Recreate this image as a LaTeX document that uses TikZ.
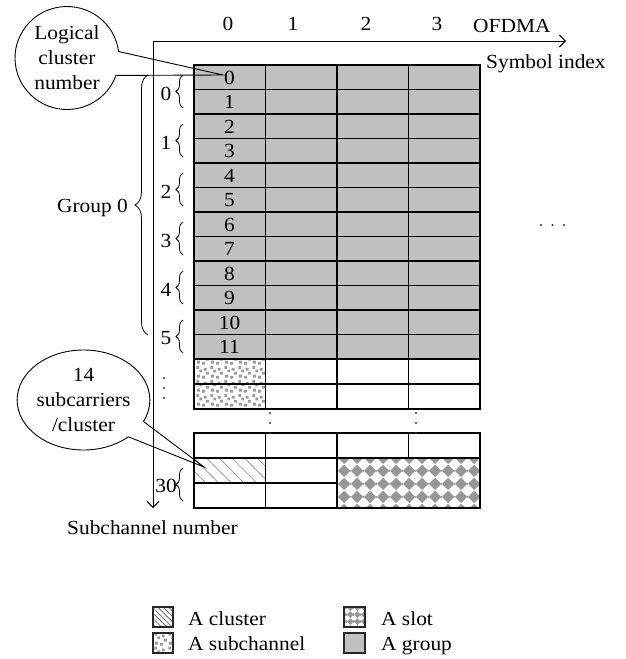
\documentclass[tikz,border=0pt]{standalone}
\usepackage{fontspec}
\setmainfont{Liberation Serif}[FakeStretch=1.07]
\usetikzlibrary{patterns,patterns.meta,shapes.callouts,decorations.pathreplacing,arrows.meta}
\definecolor{cellgray}{RGB}{192,192,192}
\definecolor{patgray}{RGB}{150,150,150}
\definecolor{speckgray}{RGB}{155,155,155}

\tikzdeclarepattern{
  name=slotdiamonds,
  type=colored,
  bounding box={(0pt,0pt) and (13pt,13pt)},
  tile size={(13pt,13pt)},
  code={\fill[patgray] (6.5pt,0pt) -- (13pt,6.5pt) -- (6.5pt,13pt) -- (0pt,6.5pt) -- cycle;}
}
\tikzdeclarepattern{
  name=slotdiamondssmall,
  type=colored,
  bounding box={(0pt,0pt) and (6.8pt,6.8pt)},
  tile size={(6.8pt,6.8pt)},
  code={\fill[patgray] (3.4pt,0pt) -- (6.8pt,3.4pt) -- (3.4pt,6.8pt) -- (0pt,3.4pt) -- cycle;}
}
\tikzdeclarepattern{
  name=speckle,
  type=colored,
  bounding box={(0pt,0pt) and (14pt,14pt)},
  tile size={(14pt,14pt)},
  code={
    \fill[speckgray] (1pt,1.5pt) rectangle (4pt,4.5pt);
    \fill[speckgray] (6.5pt,0.3pt) rectangle (9.5pt,3.3pt);
    \fill[speckgray] (10.6pt,4.5pt) rectangle (13.6pt,7.5pt);
    \fill[speckgray] (3.5pt,7pt) rectangle (6.5pt,10pt);
    \fill[speckgray] (8.2pt,8.8pt) rectangle (11.2pt,11.8pt);
    \fill[speckgray] (0.4pt,10.8pt) rectangle (3.4pt,13.8pt);
  }
}

\begin{document}
\begin{tikzpicture}[x=1pt,y=-1pt,
  every node/.style={font=\fontsize{20}{25}\selectfont, inner sep=0pt},
  gridline/.style={line width=1.5pt, line cap=rect},
  axisline/.style={line width=0.9pt,-{Straight Barb[length=6pt,width=12pt]}},
  smallbrace/.style={decorate,decoration={brace,amplitude=7pt},line width=0.8pt},
  groupbrace/.style={decorate,decoration={brace,amplitude=13pt},line width=0.8pt},
  dotmark/.style={fill=black!80},
  bubble/.style={ellipse callout,draw,line width=0.9pt,inner sep=0pt,align=center},
  legbox/.style={line width=1.2pt,draw=black!85},
  hatchfill/.style={pattern={Lines[angle=-45,distance=9pt,line width=0.7pt]},pattern color=patgray},
  hatchsmall/.style={pattern={Lines[angle=-45,distance=3.8pt,line width=0.6pt]},pattern color=black!70}
]
\useasboundingbox (0,0) rectangle (625,659);

% ---------- upper grid (groups) ----------
\fill[cellgray] (194,65) rectangle (480,359);
\fill[pattern=speckle] (194,359) rectangle (265.5,409);
\foreach \r in {0,...,12}
  \draw[gridline] (194,{65+24.5*\r}) -- (480,{65+24.5*\r});
\draw[gridline] (194,384) -- (480,384);
\draw[gridline] (194,409) -- (480,409);
\foreach \c in {194,265.5,337,408.5,480}
  \draw[gridline] (\c,65) -- (\c,409);

% ---------- lower grid ----------
\fill[hatchfill] (194,458) rectangle (265.5,483);
\fill[pattern=slotdiamonds] (337,458) rectangle (480,508);
\draw[gridline] (194,433) rectangle (480,508);
\draw[gridline] (194,458) -- (480,458);
\draw[gridline] (194,483) -- (337,483);
\draw[gridline] (265.5,433) -- (265.5,508);
\draw[gridline] (337,433) -- (337,508);
\draw[gridline] (408.5,433) -- (408.5,458);

% ---------- axes ----------
\coordinate (O) at (153,41);
\coordinate (xend) at (566,41);
\coordinate (yend) at (153,508);
\draw[axisline] (O) -- (xend);
\draw[axisline] (O) -- (yend);

% column labels
\node (c0) at (228,24) {0};
\node (c1) at (293,24) {1};
\node (c2) at (366,24) {2};
\node (c3) at (437,24) {3};
\node[anchor=base west] (ofdma) at (473,32) {OFDMA};
\node[anchor=base west] (symidx) at (486,68) {Symbol index};

% row (cluster) labels
\foreach \i in {0,...,11}
  \node (r\i) at (229.5,{77.5+24.5*\i}) {\i};

% cluster-pair braces
\foreach \p in {0,...,5}{
  \draw[smallbrace] (183,{65+49*\p+43}) -- (183,{65+49*\p+10});
  \node (g\p) at (166,{65+49*\p+28.5}) {\p};
}
\draw[smallbrace] (183,501) -- (183,468);
\node (g30) at (166,486) {30};

% group brace
\draw[groupbrace] (148,335) -- (148,75);
\node[anchor=base east] (grp) at (128,212) {Group 0};

\node[anchor=base west] (subch) at (67,534) {Subchannel number};

% ellipsis dots
\foreach \y in {378,388,398} \fill[dotmark] (164,\y) circle[radius=1.2pt];
\foreach \y in {413,423,433} {
  \fill[dotmark] (270,\y) circle[radius=1.2pt];
  \fill[dotmark] (416,\y) circle[radius=1.2pt];
}
\foreach \x in {541,552.5,564} \fill[dotmark] (\x,225) circle[radius=1.2pt];

% ---------- callouts ----------
\coordinate (tipA) at (223,75);
\node[bubble, minimum width=104pt, minimum height=103pt,
      callout absolute pointer=(tipA), callout pointer arc=27] (callA) at (67,58)
      {Logical\\cluster\\number};
\coordinate (tipB) at (204,467);
\node[bubble, minimum width=127pt, minimum height=100pt,
      callout absolute pointer=(tipB), callout pointer arc=22] (callB) at (83.5,400)
      {14\\subcarriers\\/cluster};

% ---------- legend ----------
\fill[hatchsmall] (153,607) rectangle (173,627);
\draw[legbox] (153,607) rectangle (173,627);
\fill[pattern=speckle] (153,633) rectangle (173,653);
\draw[legbox] (153,633) rectangle (173,653);
\fill[pattern=slotdiamondssmall] (344,607) rectangle (365,627);
\draw[legbox] (344,607) rectangle (365,627);
\fill[cellgray] (344,633) rectangle (365,653);
\draw[legbox] (344,633) rectangle (365,653);
\node[anchor=base west] (lcl) at (188,625) {A cluster};
\node[anchor=base west] (lsc) at (188,650) {A subchannel};
\node[anchor=base west] (lsl) at (381,625) {A slot};
\node[anchor=base west] (lgr) at (381,650) {A group};
\end{tikzpicture}
\end{document}
